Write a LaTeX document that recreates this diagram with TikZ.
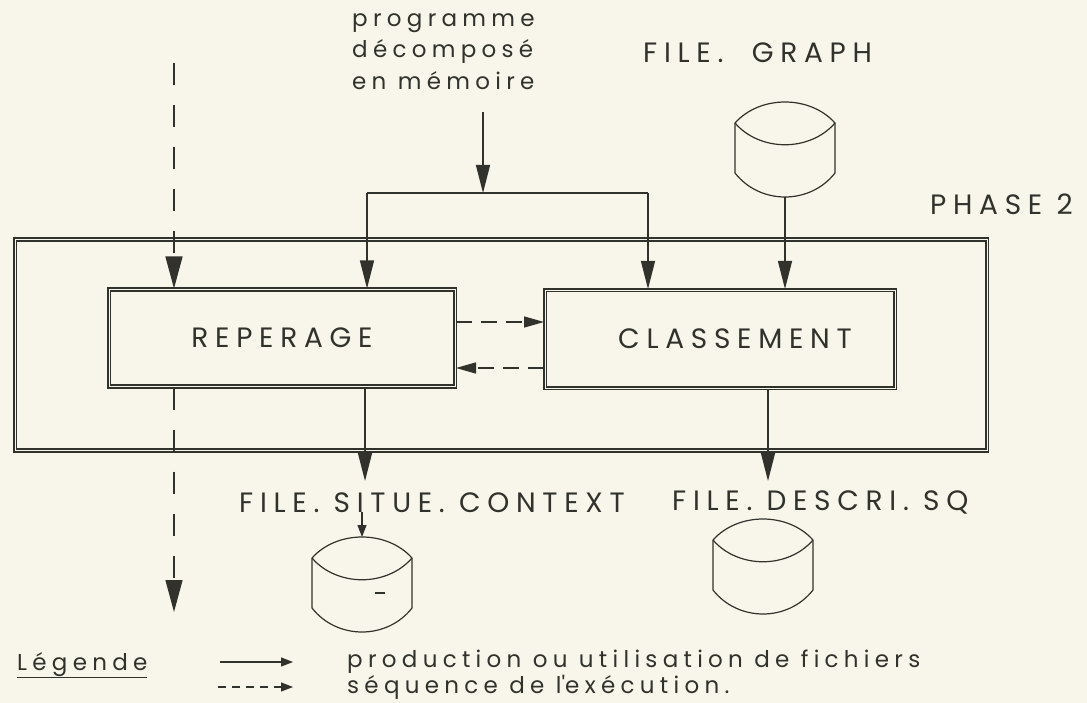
\documentclass[tikz,border=0pt]{standalone}
\usepackage{fontspec}
\setmainfont{Poppins}[LetterSpace=23]
\newfontfamily\capitales{Poppins}[LetterSpace=24]
\usetikzlibrary{arrows.meta}
\definecolor{encre}{RGB}{50,50,45}
\definecolor{papier}{RGB}{248,246,234}

\tikzset{
  fleche/.style = {encre, line width=1.3pt, >={Triangle[length=28pt,width=14pt]}, ->},
  petitefleche/.style = {encre, line width=1.1pt, >={Triangle[length=12pt,width=9pt]}, ->},
  pointille/.style = {encre, line width=1.3pt, >={Triangle[length=20pt,width=11pt]}, ->, dash pattern=on 16pt off 9pt},
  pointilleV/.style = {encre, line width=1.3pt, >={Triangle[length=32pt,width=17pt]}, ->, dash pattern=on 22pt off 20pt},
  boite/.style = {draw=encre, double=papier, double distance=0.8pt, line width=2pt,
                  inner sep=0pt, text=encre, font=\capitales\fontsize{28}{32}\selectfont},
  etiquette/.style = {text=encre, inner sep=0pt, font=\capitales\fontsize{28}{32}\selectfont},
  texte/.style = {text=encre, inner sep=0pt, font=\fontsize{23}{27}\selectfont},
  pics/disque/.style = {code={
    \draw [encre, line width=1.2pt] (-50,0) .. controls (-25,-28) and (25,-28) .. (50,0);
    \draw [encre, line width=1.2pt] (-50,0) .. controls (-25,29) and (25,29) .. (50,0);
    \draw [encre, line width=1.2pt] (-50,0) -- (-50,50) .. controls (-25,82) and (25,82) .. (50,50) -- (50,0);
    \coordinate (-haut) at (0,-21);
    \coordinate (-bas) at (0,74);
  }}
}

\begin{document}
\begin{tikzpicture}[x=1pt, y=-1pt]
\fill [papier] (0,0) rectangle (1087,703);
\useasboundingbox (0,0) rectangle (1087,703);

% phase 2
\node [boite, minimum width=972pt, minimum height=211pt] (phase) at (501,345) {};
\node [etiquette, anchor=base west] (phase2) at (930,215) {PHASE 2};
\node [boite, minimum width=346pt, minimum height=97pt] (rep) at (282,338) {REPERAGE};
\node [boite, minimum width=350pt, minimum height=98pt] (cla) at (720,339) {\hspace*{30pt}CLASSEMENT};

% entrees
\node [texte, anchor=base west] (prog1) at (352,27) {programme};
\node [texte, anchor=base west] (prog2) at (352,58) {décomposé};
\node [texte, anchor=base west] (prog3) at (352,90) {en mémoire};
\coordinate (depart) at (483,112);
\coordinate (jonction) at (483,193);
\coordinate (gauche) at (367,193);
\coordinate (droite) at (648,193);
\draw [fleche] (depart) -- (jonction);
\draw [encre, line width=1.3pt] (gauche) -- (droite);
\draw [fleche] (gauche) -- (gauche |- rep.north);
\draw [fleche] (droite) -- (droite |- cla.north);

\node [etiquette, anchor=base west] (graphe) at (643,63) {FILE.\ \ GRAPH};
\pic (graph) at (785,123) {disque};
\draw [fleche] (graph-bas) -- (graph-bas |- cla.north);

% sequence
\draw [pointille] (rep.east |- 0,322) -- (cla.west |- 0,322);
\draw [pointille] (cla.west |- 0,368) -- (rep.east |- 0,368);
\coordinate (debut) at (174,63);
\coordinate (fin) at (174,612);
\draw [pointilleV] (debut) -- (debut |- rep.north);
\draw [pointilleV] (fin |- rep.south) -- (fin);

% sorties
\coordinate (sortieA) at (365,481);
\coordinate (sortieB) at (768,481);
\draw [fleche] (sortieA |- rep.south) -- (sortieA);
\draw [fleche] (sortieB |- cla.south) -- (sortieB);
\node [etiquette, anchor=base west] (situe) at (239,512) {FILE. SITUE. CONTEXT};
\node [etiquette, anchor=base west] (descri) at (672,510) {FILE. DESCRI. SQ};
\pic (contexte) at (362,558) {disque};
\pic (descr) at (763,540) {disque};
\draw [petitefleche] (situe.south -| contexte-haut) -- (contexte-haut);
\draw [encre, line width=1.1pt] (375,593) -- (385,593);

% legende
\node [texte, anchor=base west] (legende) at (17,670) {\underline{Légende}};
\coordinate (l1a) at (220,662);
\coordinate (l1b) at (293,662);
\coordinate (l2a) at (218,687);
\coordinate (l2b) at (293,687);
\draw [petitefleche] (l1a) -- (l1b);
\draw [petitefleche, dash pattern=on 8pt off 6pt] (l2a) -- (l2b);
\node [texte, anchor=base west] (prod) at (347,667) {production ou utilisation de fichiers};
\node [texte, anchor=base west] (seq) at (347,693) {séquence de l\textquotesingle exécution.};
\end{tikzpicture}
\end{document}
